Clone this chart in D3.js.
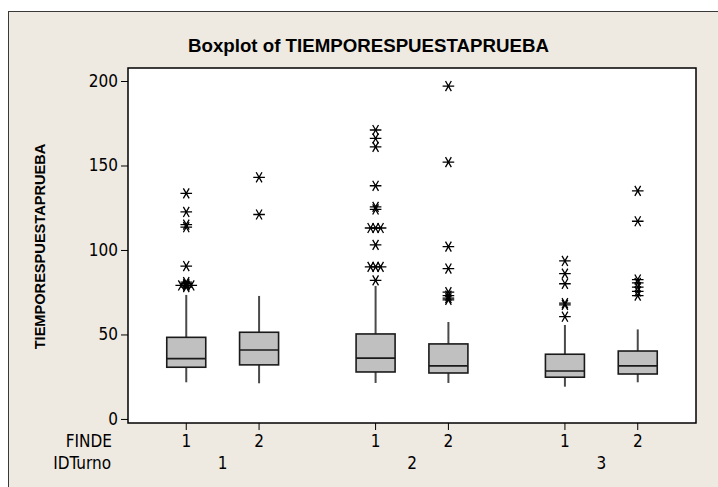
<!DOCTYPE html>
<html>
<head>
<meta charset="utf-8">
<script src="https://cdn.jsdelivr.net/npm/d3@7"></script>
<style>
  body { margin: 0; background: #fff; }
  svg { display: block; }
</style>
</head>
<body>
<div id="chart"></div>
<script>
// boxplot stats, one entry per box
var idTurno = [1, 1, 2, 2, 3, 3];
var finde = [1, 2, 1, 2, 1, 2];
var whiskerLow = [21.7, 21.1, 21.3, 21.3, 19.1, 21.7];
var q1 = [30.6, 32.0, 27.8, 27.2, 24.7, 26.6];
var median = [35.7, 40.8, 36.0, 31.4, 28.4, 31.4];
var q3 = [48.3, 51.3, 50.3, 44.4, 38.3, 40.2];
var whiskerHigh = [73.4, 72.8, 78.7, 57.4, 55.6, 53.0];
var outliers = [
  [133.5, 122.5, 115, 113.5, 90.5, 81, 80, 79, 79, 79, 78],
  [143, 121],
  [171, 166, 161, 138, 125.5, 124, 113, 113, 113, 103, 90, 90, 90, 82],
  [197, 152, 102, 89, 75, 73, 71.5, 70.5],
  [93.5, 86, 80, 68.5, 67.5, 60.5],
  [135, 117, 82.5, 80.5, 78, 75.5, 73]
];
var yTicks = [0, 50, 100, 150, 200];
var turnoLevels = [1, 2, 3];
var findeLevels = [1, 2];

var W = 718, H = 487,
    plotL = 128, plotR = 696, plotT = 68, plotB = 423,
    boxW = 39,
    font = "'Liberation Sans Narrow', 'DejaVu Sans Condensed', 'Arial Narrow', sans-serif";

var svg = d3.select('#chart').append('svg')
  .attr('width', W)
  .attr('height', H);

// beige panel with its frame
svg.append('rect')
  .attr('x', 8.5).attr('y', 11.5)
  .attr('width', W).attr('height', H)
  .attr('fill', '#eeeae1')
  .attr('stroke', '#3a3a3a')
  .attr('stroke-width', 1);

// plot area
svg.append('rect')
  .attr('x', plotL).attr('y', plotT)
  .attr('width', plotR - plotL).attr('height', plotB - plotT)
  .attr('fill', '#fff');

var y = d3.scaleLinear().domain([-2.4, 207.7]).range([plotB, plotT]);
var xOuter = d3.scaleBand().domain(turnoLevels).range([plotL, plotR]).padding(0);
var xInner = d3.scalePoint().domain(findeLevels).range([0, xOuter.bandwidth()]).padding(0.8);

function cx(i) {
  return xOuter(idTurno[i]) + xInner(finde[i]);
}

var idx = d3.range(idTurno.length);

// whiskers
var g = svg.append('g');
g.selectAll('line.whisk-lo')
  .data(idx)
  .enter().append('line')
  .attr('x1', cx).attr('x2', cx)
  .attr('y1', function(i) { return y(whiskerLow[i]); })
  .attr('y2', function(i) { return y(q1[i]); })
  .attr('stroke', '#4a4a4a')
  .attr('stroke-width', 2);
g.selectAll('line.whisk-hi')
  .data(idx)
  .enter().append('line')
  .attr('x1', cx).attr('x2', cx)
  .attr('y1', function(i) { return y(q3[i]); })
  .attr('y2', function(i) { return y(whiskerHigh[i]); })
  .attr('stroke', '#4a4a4a')
  .attr('stroke-width', 2);

// boxes
g.selectAll('rect.box')
  .data(idx)
  .enter().append('rect')
  .attr('x', function(i) { return cx(i) - boxW / 2; })
  .attr('y', function(i) { return y(q3[i]); })
  .attr('width', boxW)
  .attr('height', function(i) { return y(q1[i]) - y(q3[i]); })
  .attr('fill', '#c0c0c0')
  .attr('stroke', '#1a1a1a')
  .attr('stroke-width', 1.6);

g.selectAll('line.median')
  .data(idx)
  .enter().append('line')
  .attr('x1', function(i) { return cx(i) - boxW / 2; })
  .attr('x2', function(i) { return cx(i) + boxW / 2; })
  .attr('y1', function(i) { return y(median[i]); })
  .attr('y2', function(i) { return y(median[i]); })
  .attr('stroke', '#1a1a1a')
  .attr('stroke-width', 1.6);

// outliers: (near) ties get pushed sideways, like minitab does
var pts = [];
idx.forEach(function(i) {
  var placed = [];
  outliers[i].forEach(function(v) {
    var py = y(v), slots = [0, -1, 1, -2, 2], slot = 0;
    for (var k = 0; k < slots.length; k++) {
      var clash = placed.some(function(p) {
        return p.slot === slots[k] && Math.abs(p.py - py) < 1.5;
      });
      if (!clash) { slot = slots[k]; break; }
    }
    placed.push({py: py, slot: slot});
    pts.push({x: cx(i) + slot * 5, y: py});
  });
});

var star = d3.symbol().type(d3.symbolAsterisk).size(95);
g.selectAll('path.outlier')
  .data(pts)
  .enter().append('path')
  .attr('d', star)
  .attr('transform', function(d) {
    return 'translate(' + d.x + ',' + d.y + ') rotate(90)';
  })
  .attr('fill', 'none')
  .attr('stroke', '#000')
  .attr('stroke-width', 1.3);

// plot frame on top
svg.append('rect')
  .attr('x', plotL).attr('y', plotT)
  .attr('width', plotR - plotL).attr('height', plotB - plotT)
  .attr('fill', 'none')
  .attr('stroke', '#000')
  .attr('stroke-width', 1.5);

// y axis
var yAxis = svg.append('g')
  .attr('transform', 'translate(' + plotL + ',0)')
  .call(d3.axisLeft(y).tickValues(yTicks).tickSize(7).tickPadding(3));
yAxis.select('.domain').remove();
yAxis.selectAll('line').attr('stroke', '#000');
yAxis.selectAll('text')
  .attr('font-family', font)
  .attr('font-size', 17)
  .attr('fill', '#000');

// x ticks and the two rows of labels
svg.selectAll('line.xtick')
  .data(idx)
  .enter().append('line')
  .attr('x1', cx).attr('x2', cx)
  .attr('y1', plotB).attr('y2', plotB + 7)
  .attr('stroke', '#000');

svg.selectAll('text.finde')
  .data(idx)
  .enter().append('text')
  .attr('x', cx)
  .attr('y', 447)
  .attr('text-anchor', 'middle')
  .attr('font-family', font)
  .attr('font-size', 17)
  .text(function(i) { return finde[i]; });

svg.selectAll('text.turno')
  .data(turnoLevels)
  .enter().append('text')
  .attr('x', function(d) { return xOuter(d) + xOuter.bandwidth() / 2; })
  .attr('y', 469)
  .attr('text-anchor', 'middle')
  .attr('font-family', font)
  .attr('font-size', 17)
  .text(function(d) { return d; });

svg.append('text')
  .attr('x', 112).attr('y', 447)
  .attr('text-anchor', 'end')
  .attr('font-family', font)
  .attr('font-size', 17)
  .text('FINDE');

svg.append('text')
  .attr('x', 111).attr('y', 469)
  .attr('text-anchor', 'end')
  .attr('font-family', font)
  .attr('font-size', 17)
  .text('IDTurno');

// title and y label
svg.append('text')
  .attr('x', 368.5).attr('y', 52)
  .attr('text-anchor', 'middle')
  .attr('font-family', "'Liberation Sans', Arial, sans-serif")
  .attr('font-weight', 'bold')
  .attr('font-size', 18.7)
  .text('Boxplot of TIEMPORESPUESTAPRUEBA');

svg.append('text')
  .attr('transform', 'translate(45,246.5) rotate(-90)')
  .attr('text-anchor', 'middle')
  .attr('font-family', "'Liberation Sans', Arial, sans-serif")
  .attr('font-weight', 'bold')
  .attr('font-size', 14.6)
  .text('TIEMPORESPUESTAPRUEBA');
</script>
</body>
</html>
